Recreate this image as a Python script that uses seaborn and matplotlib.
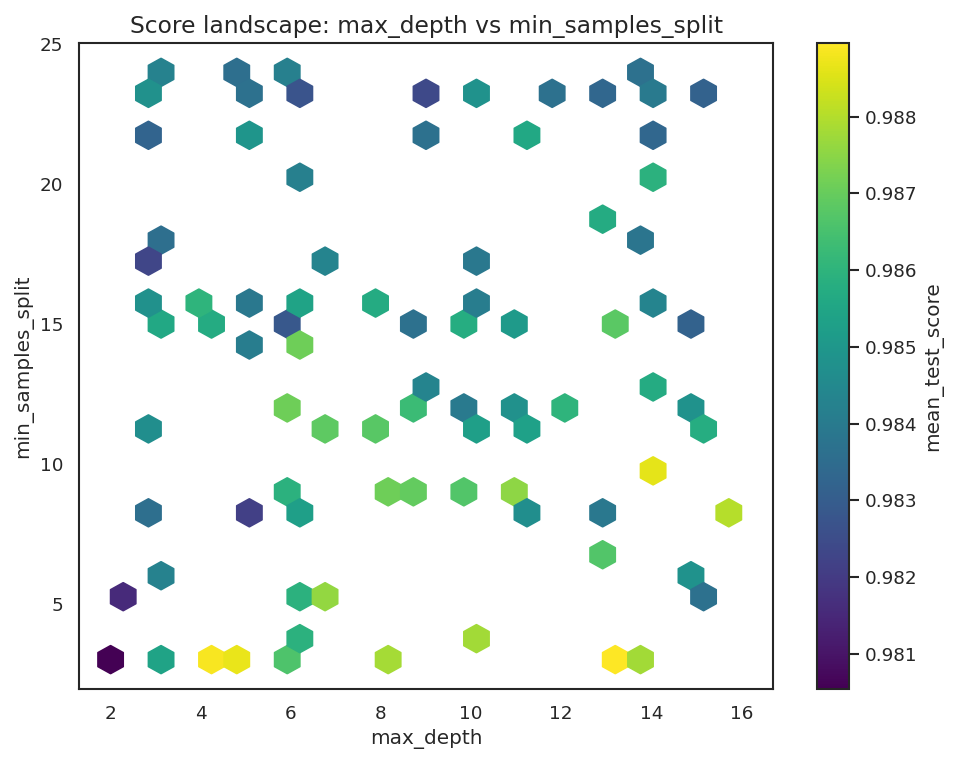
import numpy as np
import pandas as pd
import seaborn as sns
import matplotlib.pyplot as plt


# hyper-parameter search results, one entry per cell of the landscape
max_depth = [3.12, 2.84, 4.80, 5.08, 5.92, 6.20, 2.84, 5.08, 6.20, 3.12,
             2.84, 9.00, 10.12, 9.00, 11.24, 6.76, 10.12, 11.80, 12.92, 13.76,
             14.04, 15.16, 14.04, 14.04, 12.92, 13.76, 2.84, 3.12, 3.96, 4.24,
             5.08, 5.08, 6.20, 5.92, 6.20, 5.92, 2.84, 7.88, 8.72, 10.12,
             9.84, 10.96, 9.00, 8.72, 9.84, 10.12, 10.96, 11.24, 6.76, 7.88,
             14.04, 13.20, 14.88, 14.04, 12.08, 14.88, 15.16, 14.04, 5.92, 6.20,
             2.84, 5.08, 3.12, 2.28, 6.20, 6.76, 6.20, 5.92, 2.00, 3.12,
             4.24, 4.80, 8.16, 8.72, 9.84, 10.96, 11.24, 10.12, 8.16, 12.92,
             15.72, 12.92, 14.88, 15.16, 13.20, 13.76]

min_samples_split = [24, 23.25, 24, 23.25, 24, 23.25, 21.75, 21.75, 20.25, 18,
                     17.25, 23.25, 23.25, 21.75, 21.75, 17.25, 17.25, 23.25, 23.25, 24,
                     23.25, 23.25, 21.75, 20.25, 18.75, 18, 15.75, 15, 15.75, 15,
                     15.75, 14.25, 15.75, 15, 14.25, 12, 11.25, 15.75, 15, 15.75,
                     15, 15, 12.75, 12, 12, 11.25, 12, 11.25, 11.25, 11.25,
                     15.75, 15, 15, 12.75, 12, 12, 11.25, 9.75, 9, 8.25,
                     8.25, 8.25, 6, 5.25, 5.25, 5.25, 3.75, 3, 3, 3,
                     3, 3, 9, 9, 9, 9, 8.25, 3.75, 3, 8.25,
                     8.25, 6.75, 6, 5.25, 3, 3]

mean_test_score = [0.98424, 0.98475, 0.98357, 0.98366, 0.98416, 0.98273, 0.98323, 0.98492, 0.98416, 0.98357,
                   0.98231, 0.98239, 0.98483, 0.98366, 0.98559, 0.98433, 0.98391, 0.98366, 0.98332, 0.98366,
                   0.98399, 0.98315, 0.98332, 0.98593, 0.98568, 0.98382, 0.98475, 0.98559, 0.98601, 0.98568,
                   0.98391, 0.98408, 0.98542, 0.98281, 0.98711, 0.98711, 0.98467, 0.98568, 0.98366, 0.98408,
                   0.98576, 0.98509, 0.98433, 0.98627, 0.98399, 0.98526, 0.98475, 0.98534, 0.98686, 0.98677,
                   0.98433, 0.98681, 0.98315, 0.98568, 0.98601, 0.98483, 0.98576, 0.98862, 0.98593, 0.98526,
                   0.98357, 0.98214, 0.98424, 0.98155, 0.98593, 0.98761, 0.98593, 0.98660, 0.98054, 0.98542,
                   0.98888, 0.98867, 0.98711, 0.98694, 0.98669, 0.98753, 0.98467, 0.98778, 0.98782, 0.98391,
                   0.98803, 0.98669, 0.98483, 0.98366, 0.98896, 0.98778]

data = pd.DataFrame({'max_depth': max_depth,
                     'min_samples_split': min_samples_split,
                     'mean_test_score': mean_test_score})

sns.set_theme(style='white')

fig = plt.figure(figsize=(957 / 120, 764 / 120), dpi=120)
ax = fig.add_axes([0.0826, 0.0982, 0.7251, 0.8455])
cax = fig.add_axes([0.8537, 0.0982, 0.0334, 0.8455])

hb = ax.hexbin(data['max_depth'],
               data['min_samples_split'],
               C=data['mean_test_score'],
               reduce_C_function=np.mean,
               gridsize=25,
               extent=(2, 16, 3, 24),
               cmap='viridis')

cb = fig.colorbar(hb, cax=cax)
cb.set_label('mean_test_score')

ax.set_title('Score landscape: max_depth vs min_samples_split', fontsize=14)
ax.set_xlabel('max_depth')
ax.set_ylabel('min_samples_split')

plt.savefig('out.png', dpi=120)
